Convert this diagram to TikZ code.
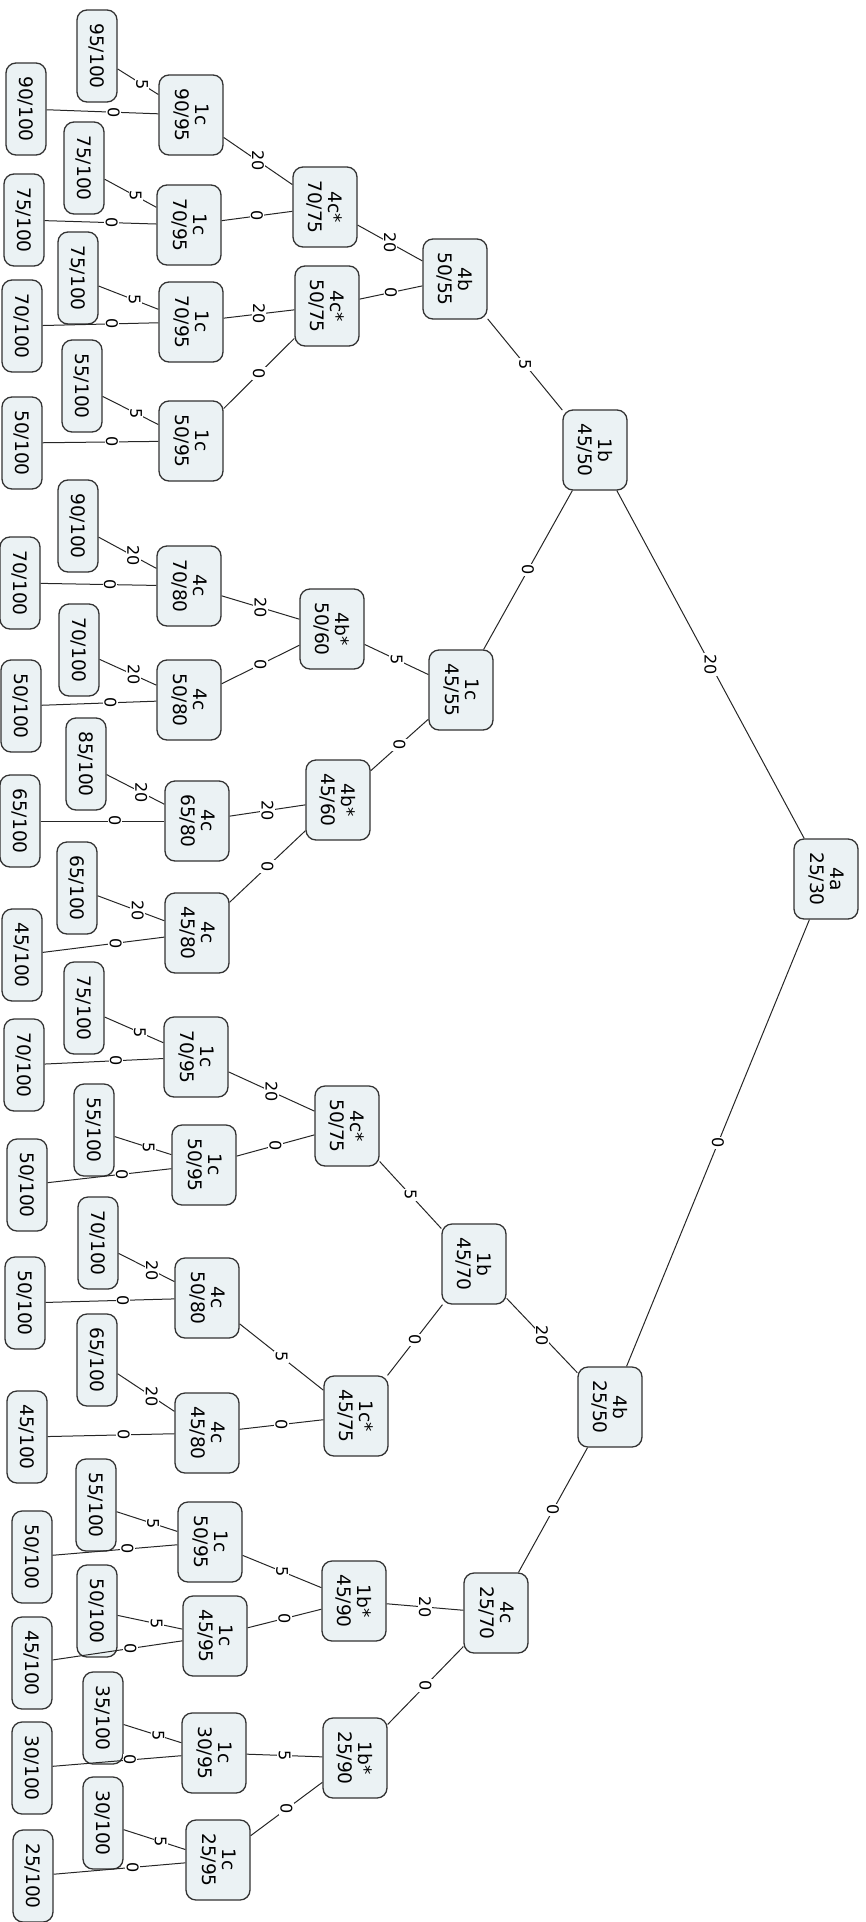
\documentclass[tikz,border=0pt]{standalone}
\usepackage{fontspec}
\setmainfont{DejaVu Sans}
\usepackage{xcolor}
\usepackage{tikz}
\definecolor{boxfill}{RGB}{235,242,244}
\tikzset{
  st/.style={draw=black!80, line width=0.65pt, fill=boxfill, rounded corners=5pt, rotate=-90, align=center, font=\fontsize{9.3}{10}\selectfont, inner sep=2pt},
  tnode/.style={st, minimum width=40pt, minimum height=32pt},
  lnode/.style={st, minimum width=46pt, minimum height=20pt},
  link/.style={draw=black!85, line width=0.5pt},
  lbl/.style={fill=white, inner sep=0.6pt, rotate=-90, font=\fontsize{8}{8}\selectfont},
  lf/.style={lbl, pos=0.6}}

\begin{document}
\begin{tikzpicture}[x=0.5pt, y=-0.5pt]
  \useasboundingbox (0,0) rectangle (866,1922);
  % root and upper levels
  \node[tnode] (a) at (826,879) {4a\\25/30};
  \node[tnode] (b1) at (595,450) {1b\\45/50};
  \node[tnode] (b2) at (610,1407) {4b\\25/50};
  \node[tnode] (c1) at (455,279) {4b\\50/55};
  \node[tnode] (c2) at (461,690) {1c\\45/55};
  \node[tnode] (c3) at (474,1264) {1b\\45/70};
  \node[tnode] (c4) at (496,1613) {4c\\25/70};
  \node[tnode] (d1) at (325,207) {4c*\\70/75};
  \node[tnode] (d2) at (327,306) {4c*\\50/75};
  \node[tnode] (d3) at (332,629) {4b*\\50/60};
  \node[tnode] (d4) at (338,800) {4b*\\45/60};
  \node[tnode] (d5) at (347,1126) {4c*\\50/75};
  \node[tnode] (d6) at (356,1416) {1c*\\45/75};
  \node[tnode] (d7) at (354,1601) {1b*\\45/90};
  \node[tnode] (d8) at (355,1758) {1b*\\25/90};
  % last inner level
  \node[tnode] (e1) at (191,115) {1c\\90/95};
  \node[tnode] (e2) at (189,225) {1c\\70/95};
  \node[tnode] (e3) at (191,322) {1c\\70/95};
  \node[tnode] (e4) at (191,441) {1c\\50/95};
  \node[tnode] (e5) at (189,586) {4c\\70/80};
  \node[tnode] (e6) at (189,700) {4c\\50/80};
  \node[tnode] (e7) at (197,821) {4c\\65/80};
  \node[tnode] (e8) at (197,933) {4c\\45/80};
  \node[tnode] (e9) at (196,1057) {1c\\70/95};
  \node[tnode] (e10) at (204,1165) {1c\\50/95};
  \node[tnode] (e11) at (207,1298) {4c\\50/80};
  \node[tnode] (e12) at (207,1433) {4c\\45/80};
  \node[tnode] (e13) at (210,1542) {1c\\50/95};
  \node[tnode] (e14) at (215,1636) {1c\\45/95};
  \node[tnode] (e15) at (214,1753) {1c\\30/95};
  \node[tnode] (e16) at (218,1860) {1c\\25/95};
  % leaves
  \node[lnode] (f1) at (97,56) {95/100};   \node[lnode] (f2) at (26,109) {90/100};
  \node[lnode] (f3) at (84,168) {75/100};  \node[lnode] (f4) at (24,220) {75/100};
  \node[lnode] (f5) at (78,278) {75/100};  \node[lnode] (f6) at (22,326) {70/100};
  \node[lnode] (f7) at (82,386) {55/100};  \node[lnode] (f8) at (22,443) {50/100};
  \node[lnode] (f9) at (78,526) {90/100};  \node[lnode] (f10) at (20,583) {70/100};
  \node[lnode] (f11) at (79,650) {70/100}; \node[lnode] (f12) at (21,706) {50/100};
  \node[lnode] (f13) at (86,764) {85/100}; \node[lnode] (f14) at (20,821) {65/100};
  \node[lnode] (f15) at (77,888) {65/100}; \node[lnode] (f16) at (22,955) {45/100};
  \node[lnode] (f17) at (84,1008) {75/100}; \node[lnode] (f18) at (24,1065) {70/100};
  \node[lnode] (f19) at (94,1130) {55/100}; \node[lnode] (f20) at (27,1185) {50/100};
  \node[lnode] (f21) at (98,1243) {70/100}; \node[lnode] (f22) at (25,1303) {50/100};
  \node[lnode] (f23) at (97,1360) {65/100}; \node[lnode] (f24) at (27,1437) {45/100};
  \node[lnode] (f25) at (96,1505) {55/100}; \node[lnode] (f26) at (32,1557) {50/100};
  \node[lnode] (f27) at (97,1611) {50/100}; \node[lnode] (f28) at (32,1663) {45/100};
  \node[lnode] (f29) at (103,1718) {35/100}; \node[lnode] (f30) at (32,1768) {30/100};
  \node[lnode] (f31) at (103,1823) {30/100}; \node[lnode] (f32) at (33,1876) {25/100};
  % connectors
  \draw[link] (b1) -- node[lbl] {20} (a); \draw[link] (b2) -- node[lbl] {0} (a);
  \draw[link] (c1) -- node[lbl] {5} (b1); \draw[link] (c2) -- node[lbl] {0} (b1);
  \draw[link] (c3) -- node[lbl] {20} (b2); \draw[link] (c4) -- node[lbl] {0} (b2);
  \draw[link] (d1) -- node[lbl] {20} (c1); \draw[link] (d2) -- node[lbl] {0} (c1);
  \draw[link] (d3) -- node[lbl] {5} (c2); \draw[link] (d4) -- node[lbl] {0} (c2);
  \draw[link] (d5) -- node[lbl] {5} (c3); \draw[link] (d6) -- node[lbl] {0} (c3);
  \draw[link] (d7) -- node[lbl] {20} (c4); \draw[link] (d8) -- node[lbl] {0} (c4);
  \draw[link] (e1) -- node[lbl] {20} (d1); \draw[link] (e2) -- node[lbl] {0} (d1);
  \draw[link] (e3) -- node[lbl] {20} (d2); \draw[link] (e4) -- node[lbl] {0} (d2);
  \draw[link] (e5) -- node[lbl] {20} (d3); \draw[link] (e6) -- node[lbl] {0} (d3);
  \draw[link] (e7) -- node[lbl] {20} (d4); \draw[link] (e8) -- node[lbl] {0} (d4);
  \draw[link] (e9) -- node[lbl] {20} (d5); \draw[link] (e10) -- node[lbl] {0} (d5);
  \draw[link] (e11) -- node[lbl] {5} (d6); \draw[link] (e12) -- node[lbl] {0} (d6);
  \draw[link] (e13) -- node[lbl] {5} (d7); \draw[link] (e14) -- node[lbl] {0} (d7);
  \draw[link] (e15) -- node[lbl] {5} (d8); \draw[link] (e16) -- node[lbl] {0} (d8);
  \draw[link] (f1) -- node[lf] {5} (e1); \draw[link] (f2) -- node[lf] {0} (e1);
  \draw[link] (f3) -- node[lf] {5} (e2); \draw[link] (f4) -- node[lf] {0} (e2);
  \draw[link] (f5) -- node[lf] {5} (e3); \draw[link] (f6) -- node[lf] {0} (e3);
  \draw[link] (f7) -- node[lf] {5} (e4); \draw[link] (f8) -- node[lf] {0} (e4);
  \draw[link] (f9) -- node[lf] {20} (e5); \draw[link] (f10) -- node[lf] {0} (e5);
  \draw[link] (f11) -- node[lf] {20} (e6); \draw[link] (f12) -- node[lf] {0} (e6);
  \draw[link] (f13) -- node[lf] {20} (e7); \draw[link] (f14) -- node[lf] {0} (e7);
  \draw[link] (f15) -- node[lf] {20} (e8); \draw[link] (f16) -- node[lf] {0} (e8);
  \draw[link] (f17) -- node[lf] {5} (e9); \draw[link] (f18) -- node[lf] {0} (e9);
  \draw[link] (f19) -- node[lf] {5} (e10); \draw[link] (f20) -- node[lf] {0} (e10);
  \draw[link] (f21) -- node[lf] {20} (e11); \draw[link] (f22) -- node[lf] {0} (e11);
  \draw[link] (f23) -- node[lf] {20} (e12); \draw[link] (f24) -- node[lf] {0} (e12);
  \draw[link] (f25) -- node[lf] {5} (e13); \draw[link] (f26) -- node[lf] {0} (e13);
  \draw[link] (f27) -- node[lf] {5} (e14); \draw[link] (f28) -- node[lf] {0} (e14);
  \draw[link] (f29) -- node[lf] {5} (e15); \draw[link] (f30) -- node[lf] {0} (e15);
  \draw[link] (f31) -- node[lf] {5} (e16); \draw[link] (f32) -- node[lf] {0} (e16);
\end{tikzpicture}
\end{document}
